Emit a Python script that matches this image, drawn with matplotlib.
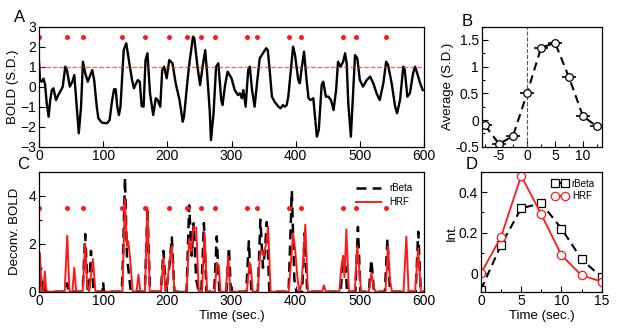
import numpy as np
import matplotlib
matplotlib.use("Agg")
import matplotlib.pyplot as plt
from matplotlib.ticker import MultipleLocator

plt.rcParams["font.family"] = ["Liberation Sans", "DejaVu Sans"]
plt.rcParams["font.size"] = 9.5

# ---------------- DATA ----------------

# panel A: BOLD signal (S.D.)
bold_t = [0, 1.5, 4, 7, 9.5, 12, 15, 17.5, 20, 22.5, 26.5, 30, 33, 37, 41, 43.5,
          48, 52, 55, 58, 62, 65.5, 68.5, 72, 76, 79, 83, 86, 90, 92.5, 98,
          106, 110, 114, 117, 119.5, 122, 124.5, 127, 130, 132, 136, 140, 145,
          148, 150, 154, 157, 160, 163, 166, 169, 173, 178, 182, 185, 189, 192,
          195, 199, 203, 208, 213, 219, 224, 226, 232, 235, 240, 242, 247, 251,
          255, 259, 262, 266, 268, 272, 276, 279.5, 284, 286, 290, 294, 300,
          305, 310, 313, 316, 318.5, 322, 326, 328.5, 332, 336, 340, 344, 349,
          354, 356.5, 359, 363, 367, 373, 376.5, 380, 383, 386, 388.5, 392,
          396, 399, 404, 406.5, 409, 413, 417, 420, 423, 427.5, 433, 436,
          440.5, 443, 447, 451, 455, 459, 463, 466, 470, 474, 477, 479.5, 482,
          486, 490, 492.5, 496, 500, 505, 510.7, 516, 521, 526, 531, 536.6,
          541, 544, 549.6, 555, 558, 562.6, 567.7, 570, 574, 578, 583, 586,
          588.6, 594, 598]
bold_v = [1.25, 0.33, 0.25, 0.4, 0.1, -0.83, -1.5, -0.67, -0.17, -0.08, -0.67,
          -0.42, -0.25, 0.0, 1.0, 0.83, 0.0, 0.25, 0.58, -0.67, -2.33, -1.0,
          1.25, 0.67, 0.25, 0.5, 0.83, 0.33, -1.0, -1.58, -1.8, -1.83, -1.67,
          -0.67, -0.13, -0.13, -1.0, -1.42, -1.0, 0.67, 1.83, 2.17, 1.33,
          0.33, -0.08, 0.08, 0.33, 0.25, -0.97, -1.0, 1.33, 1.67, -0.33, -1.42,
          -0.58, -0.67, -1.0, 0.83, 1.0, 0.42, 1.33, 1.17, 0.17, -0.67, -1.75,
          -1.5, 0.5, 1.33, 2.5, 2.42, 1.0, 0.08, 1.0, 1.83, 0.67, -1.17, -2.67,
          -1.33, 1.0, 1.17, -0.67, -0.92, 0.08, 0.75, 0.42, -0.17, -0.42,
          -0.33, -0.58, -0.17, -1.0, 0.83, 1.0, -0.17, -1.0, 0.25, 1.42, 1.67,
          1.92, 1.83, 1.0, -0.5, -0.75, -1.0, -1.08, -0.92, -1.0, -0.92, -0.5,
          0.67, 2.0, 1.58, 0.33, 0.17, 0.83, 1.75, 0.33, -0.58, -0.67, -0.58,
          -2.5, -2.17, 0.08, 0.25, -0.5, -0.5, -0.67, -1.17, -0.17, 1.25, 1.0,
          1.25, 1.67, 1.17, -0.83, -2.5, 0.0, 1.58, 1.42, 0.33, 0.0, 0.33, 0.5,
          0.17, -0.33, -0.67, 0.17, 1.25, 1.08, 0.17, -1.0, -1.33, -0.67, 1.0,
          0.83, -0.5, -0.33, 0.67, 1.0, 0.75, 0.17, -0.17]

# event onsets (red dots)
event_t = [0, 44, 68.5, 129, 164.5, 202, 230.5, 252, 274, 323.5, 340.5, 389,
           409, 474, 494.5, 541]

# panel B: event-triggered average
avg_lag = [-7.5, -5, -2.5, 0, 2.5, 5, 7.5, 10, 12.5]
avg_val = [-0.1, -0.45, -0.3, 0.5, 1.35, 1.45, 0.8, 0.07, -0.12]

# panel C: deconvolved BOLD
hrf_t = [0, 1.5, 4, 7, 9, 11.5, 40, 44, 47.5, 52, 55, 58, 68, 72, 75, 78, 84,
         88, 130, 134, 137, 139, 142, 146, 152, 155, 158, 165, 169, 172.5,
         190, 194, 197, 200, 203, 207, 211, 230, 234, 237, 241, 245, 249, 254,
         258, 262, 274, 277, 280, 283, 291, 295, 298, 324, 328, 331, 333, 341,
         344, 346, 350, 354, 357, 361, 389, 392, 396, 399, 403, 406, 409, 412,
         415, 419, 441, 444, 447, 468, 471, 474, 476, 479, 483, 492, 496, 499,
         502, 514, 518, 521, 524, 540, 544, 547, 550, 568, 572.5, 576, 586, 591,
         595, 600]
hrf_v = [0.3, 1.6, 0, 0, 0.85, 0, 0, 2.33, 0, 0, 1.0, 0, 0, 2.0, 0.3, 0, 1.36,
         0, 0, 3.85, 1.9, 2.1, 1.4, 0, 0, 0.7, 0, 0, 3.5, 0, 0, 1.4, 0, 0.3,
         1.2, 1.9, 0, 0, 2.2, 1.7, 2.7, 2.65, 0, 0, 2.45, 0, 0, 1.2, 1.1, 0, 0,
         1.47, 0, 0, 1.22, 0.8, 0, 0, 1.4, 1.75, 1.5, 2.0, 2.7, 0, 0, 1.0,
         2.44, 1.8, 0.5, 0, 0.3, 1.5, 2.8, 0, 0, 0.26, 0, 0, 1.0, 1.5, 0.6,
         2.6, 0, 0, 1.9, 1.0, 0, 0, 0.78, 0.3, 0, 0, 1.9, 0.5, 0, 0, 2.3, 0, 0,
         1.8, 0, 0]
rbeta_t = [0, 2, 4, 6, 8, 10, 42, 44, 46, 68, 72, 76, 78, 81, 85, 99, 100, 101,
           129, 131, 134, 137, 139, 143, 165, 169, 173, 190, 194, 198, 203,
           207, 211, 230, 234, 238, 241, 245, 249, 253, 257, 261, 273, 277, 281,
           292, 296, 299, 323, 327, 331, 341, 345, 349, 352, 355, 359, 389, 394,
           398, 401, 410, 414, 418, 470, 474, 478, 480, 493, 497, 501, 514, 518,
           522, 539, 543, 547, 587, 591, 595, 600]
rbeta_v = [0, 1.0, 0.3, 0, 0.5, 0, 0, 0.35, 0, 0, 2.4, 0, 0, 1.7, 0, 0, 0.4, 0,
           0, 1.5, 4.75, 1.5, 1.0, 0, 0, 3.5, 0, 0, 1.7, 0, 1.0, 2.26, 0, 0,
           3.6, 1.5, 2.85, 0.5, 0, 0, 2.86, 0, 0, 2.3, 0, 0, 1.85, 0, 0, 2.1, 0,
           0, 3.0, 1.0, 1.7, 2.9, 0, 0, 4.2, 0.5, 0, 0, 2.44, 0, 0, 1.33, 1.0,
           0, 0, 2.7, 0, 0, 1.33, 0, 0, 2.2, 0, 0, 2.5, 0, 0]

# panel D: kernel shapes
kern_t = [0, 2.5, 5, 7.5, 10, 12.5, 15]
kern_rbeta = [-0.08, 0.14, 0.32, 0.345, 0.22, 0.07, -0.02]
kern_hrf = [0.0, 0.18, 0.48, 0.29, 0.09, -0.01, -0.04]

RED = "#ff1a1a"


def style_axis(ax):
    ax.tick_params(direction="in", which="both", top=False, right=False,
                   labelsize=10, length=4, width=0.8, pad=2)
    ax.tick_params(which="minor", length=2)
    for s in ax.spines.values():
        s.set_linewidth(0.9)


fig = plt.figure(figsize=(6.23, 3.33), dpi=100)

# ---------------- PANEL A ----------------
axA = fig.add_axes([0.0626, 0.5595, 0.618, 0.3605])
axA.plot(bold_t, bold_v, color="black", lw=1.7)
axA.axhline(1, color=RED, ls="--", lw=0.9, alpha=0.7)
axA.plot(event_t, [2.5] * len(event_t), "o", color=RED, ms=3.6, mec="none")
axA.set_xlim(0, 600)
axA.set_ylim(-3, 3)
axA.xaxis.set_major_locator(MultipleLocator(100))
axA.yaxis.set_major_locator(MultipleLocator(1))
axA.set_ylabel("BOLD (S.D.)", labelpad=1)
style_axis(axA)
fig.text(0.022, 0.935, "A", fontsize=12)

# ---------------- PANEL B ----------------
axB = fig.add_axes([0.7732, 0.5595, 0.1931, 0.3605])
axB.axvline(0, color="0.35", ls="--", lw=0.8)
axB.errorbar(avg_lag, avg_val, xerr=1.2, color="black", ls=(0, (4, 2.5)),
             lw=1.5, marker="o", ms=5.5, mfc="white", mec="black", mew=0.9,
             elinewidth=1.2, capsize=0)
axB.set_xlim(-8.1, 13.4)
axB.set_ylim(-0.5, 1.75)
axB.xaxis.set_minor_locator(MultipleLocator(2.5))
axB.yaxis.set_minor_locator(MultipleLocator(0.25))
axB.set_yticks([-0.5, 0, 0.5, 1, 1.5])
axB.set_yticklabels(["-0.5", "0", "0.5", "1", "1.5"])
axB.set_xticks([-5, 0, 5, 10])
axB.set_xticklabels(["-5", "0", "5", "10"])
axB.set_ylabel("Average (S.D.)", labelpad=1)
style_axis(axB)
fig.text(0.741, 0.922, "B", fontsize=12)

# ---------------- PANEL C ----------------
axC = fig.add_axes([0.0626, 0.124, 0.618, 0.3604])
axC.plot(rbeta_t, rbeta_v, color="black", ls=(0, (4, 2.5)), lw=1.8,
         label="rBeta")
axC.plot(hrf_t, hrf_v, color=RED, lw=1.4, label="HRF")
axC.plot(event_t, [3.5] * len(event_t), "o", color=RED, ms=3.6, mec="none")
axC.set_xlim(0, 600)
axC.set_ylim(0, 5)
axC.xaxis.set_major_locator(MultipleLocator(100))
axC.yaxis.set_major_locator(MultipleLocator(2))
axC.yaxis.set_minor_locator(MultipleLocator(1))
axC.set_xlabel("Time (sec.)", labelpad=1)
axC.set_ylabel("Deconv. BOLD", labelpad=5)
axC.legend(loc="upper right", frameon=False, fontsize=7, handlelength=2.6,
           borderaxespad=0.8, labelspacing=0.4)
style_axis(axC)
fig.text(0.028, 0.493, "C", fontsize=12)

# ---------------- PANEL D ----------------
axD = fig.add_axes([0.772, 0.124, 0.1938, 0.3604])
axD.plot(kern_t, kern_rbeta, color="black", ls=(0, (4, 2.5)), lw=1.5,
         marker="s", ms=5.5, mfc="white", mec="black", mew=0.9, label="rBeta")
axD.plot(kern_t, kern_hrf, color=RED, lw=1.3, marker="o", ms=6, mfc="white",
         mec=RED, mew=0.9, label="HRF")
axD.set_xlim(0, 15)
axD.set_ylim(-0.09, 0.5)
axD.xaxis.set_major_locator(MultipleLocator(5))
axD.xaxis.set_minor_locator(MultipleLocator(2.5))
axD.set_yticks([0, 0.2, 0.4])
axD.set_yticklabels(["0", "0.2", "0.4"])
axD.yaxis.set_minor_locator(MultipleLocator(0.1))
axD.set_xlabel("Time (sec.)", labelpad=1)
axD.set_ylabel("Int.", labelpad=1)
axD.legend(loc="upper right", frameon=False, fontsize=7, numpoints=2,
           handlelength=1.6, borderaxespad=0.3, labelspacing=0.3,
           handletextpad=0.4)
style_axis(axD)
fig.text(0.748, 0.493, "D", fontsize=12)

plt.savefig("out.png", dpi=100)
